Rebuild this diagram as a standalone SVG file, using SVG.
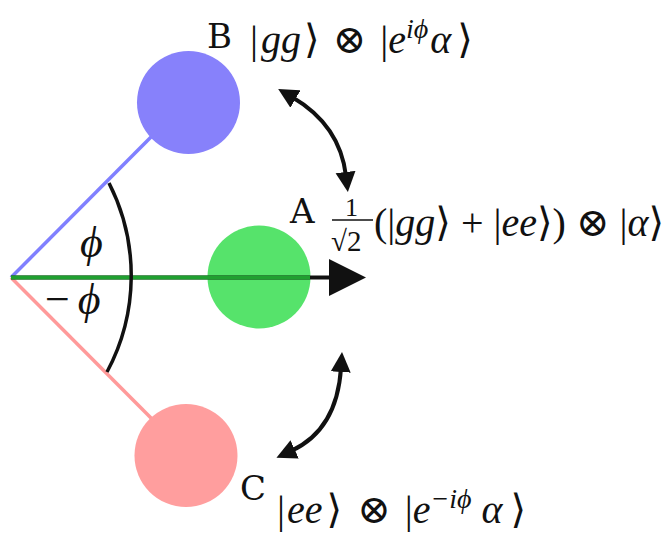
<svg xmlns="http://www.w3.org/2000/svg" width="667" height="534" viewBox="0 0 667 534">
<style>
.m{font-family:"Liberation Serif","DejaVu Serif",serif;font-size:40px;fill:#111}
.i{font-style:italic}
.sup{font-size:28px;font-style:italic}
.lbl{font-family:"DejaVu Serif",serif;font-size:34px;fill:#111}
.dbl{fill:none;stroke:#111;stroke-width:4;marker-start:url(#ah);marker-end:url(#ah)}
</style>
<defs>
<marker id="ah" viewBox="0 0 10 10" refX="2" refY="5" markerWidth="5" markerHeight="5.2" orient="auto-start-reverse" markerUnits="strokeWidth">
<path d="M0,0 L10,5 L0,10 Z" fill="#111"/>
</marker>
</defs>
<g id="rays">
<line x1="11" y1="277.5" x2="160" y2="128" stroke="#8080ff" stroke-width="3.5"/>
<line x1="11" y1="277.5" x2="155" y2="422" stroke="#ff9a9a" stroke-width="3.5"/>
</g>
<g id="nodeB"><circle cx="188.5" cy="102.5" r="51.5" fill="#8781fb"/></g>
<g id="nodeA"><circle cx="259" cy="277" r="51.5" fill="#56e36b"/></g>
<g id="nodeC"><circle cx="186" cy="455.5" r="51.5" fill="#ff9e9e"/></g>
<g id="connectors">
<line x1="11" y1="277.5" x2="332" y2="277.5" stroke="#111" stroke-width="4"/>
<path d="M329,259 L366,277.5 L329,296 Z" fill="#111"/>
<line x1="11" y1="277.5" x2="310" y2="277.5" stroke="#20a030" stroke-width="4"/>
<path d="M109,183 A204,204 0 0,1 107,372" fill="none" stroke="#111" stroke-width="3.5"/>
<path class="dbl" d="M292,97 Q340,125 346,176"/>
<path class="dbl" d="M341,368 Q337,430 291,451"/>
</g>
<g id="angles">
<text class="m i" x="80" y="257" style="font-size:44px">ϕ</text>
<text class="m" x="45" y="314" style="font-size:44px">−<tspan class="i" dx="8">ϕ</tspan></text>
</g>
<g id="labelB">
<text class="lbl" x="207" y="48">B</text>
<text class="m" x="250" y="53">|<tspan class="i" dx="3">gg</tspan><tspan dx="3">⟩</tspan><tspan dx="13">⊗</tspan><tspan dx="14">|</tspan><tspan class="i">e</tspan><tspan class="sup" dy="-15">iϕ</tspan><tspan class="i" dx="2" dy="15">α</tspan><tspan dx="6">⟩</tspan></text>
</g>
<g id="labelA">
<text class="lbl" x="290" y="223">A</text>
<text class="m" x="345" y="216" style="font-size:26px">1</text>
<line x1="332" y1="220" x2="373" y2="220" stroke="#111" stroke-width="1.5"/>
<text class="m" x="331" y="251" style="font-size:29px">√2</text>
<text class="m" x="374" y="236">(|<tspan class="i">gg</tspan>⟩ + |<tspan class="i">ee</tspan>⟩) ⊗ |<tspan class="i">α</tspan>⟩</text>
</g>
<g id="labelC">
<text class="lbl" x="240" y="500">C</text>
<text class="m" x="277" y="523">|<tspan class="i" dx="2">ee</tspan><tspan dx="4">⟩</tspan><tspan dx="15">⊗</tspan><tspan dx="14">|</tspan><tspan class="i">e</tspan><tspan class="sup" dy="-15">−iϕ</tspan><tspan class="i" dx="10" dy="15">α</tspan><tspan dx="8">⟩</tspan></text>
</g>
</svg>
